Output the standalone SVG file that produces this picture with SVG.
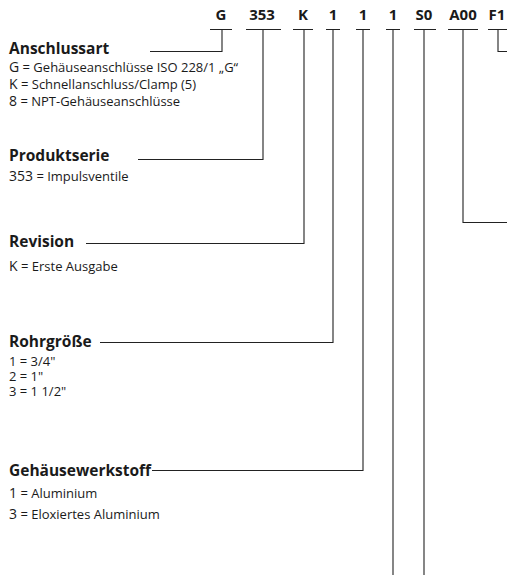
<svg xmlns="http://www.w3.org/2000/svg" width="507" height="575" viewBox="0 0 507 575">
<style>
.code{font-family:"Open Sans","Noto Sans",sans-serif;font-weight:bold;font-size:15px;fill:#1a1a1a;text-anchor:middle}
.title{font-family:"Open Sans","Noto Sans",sans-serif;font-weight:bold;font-size:15.5px;fill:#1a1a1a}
.desc{font-family:"Open Sans","Noto Sans",sans-serif;font-size:13px;fill:#1a1a1a}
.big{font-size:14px}
.sz{font-family:"Open Sans","Noto Sans",sans-serif;font-size:13px;fill:#1a1a1a}
.ln{stroke:#222;stroke-width:1.1;fill:none}
</style>
<rect width="507" height="575" fill="#fff"/>
<g id="codes">
<text class="code" x="221" y="20">G</text>
<text class="code" x="262" y="20">353</text>
<text class="code" x="303" y="20">K</text>
<text class="code" x="333" y="20">1</text>
<text class="code" x="363" y="20">1</text>
<text class="code" x="393" y="20">1</text>
<text class="code" x="424" y="20">S0</text>
<text class="code" x="463" y="20">A00</text>
<text class="code" x="497" y="20">F1</text>
</g>
<g id="connectors" class="ln">
<path d="M210 29.5H232M246 29.5H281M293 29.5H313M326 29.5H340M356 29.5H370M386 29.5H400M414 29.5H436M448 29.5H478M488 29.5H507"/>
<path d="M222 29.5V51.5H150"/>
<path d="M263 29.5V159.5H138"/>
<path d="M304 29.5V243.5H86"/>
<path d="M333 29.5V342.5H100"/>
<path d="M363 29.5V470.5H152"/>
<path d="M393 29.5V575"/>
<path d="M424 29.5V575"/>
<path d="M463 29.5V222.5H507"/>
<path d="M498 29.5V51.5H507"/>
</g>
<g id="anschlussart">
<text class="title" x="9" y="54">Anschlussart</text>
<text class="desc" x="9" y="72"><tspan class="big">G</tspan> = Gehäuseanschlüsse ISO 228/1 „G“</text>
<text class="desc" x="9" y="89"><tspan class="big">K</tspan> = Schnellanschluss/Clamp (5)</text>
<text class="desc" x="9" y="106"><tspan class="big">8</tspan> = NPT-Gehäuseanschlüsse</text>
</g>
<g id="produktserie">
<text class="title" x="9" y="161">Produktserie</text>
<text class="desc" x="9" y="181"><tspan class="big">353</tspan> = Impulsventile</text>
</g>
<g id="revision">
<text class="title" x="9" y="247">Revision</text>
<text class="desc" x="9" y="271"><tspan class="big">K</tspan> = Erste Ausgabe</text>
</g>
<g id="rohrgroesse">
<text class="title" x="9" y="347">Rohrgröße</text>
<text class="sz" x="9" y="366">1 = 3/4"</text>
<text class="sz" x="9" y="381">2 = 1"</text>
<text class="sz" x="9" y="396">3 = 1 1/2"</text>
</g>
<g id="gehaeusewerkstoff">
<text class="title" x="9" y="476">Gehäusewerkstoff</text>
<text class="desc" x="9" y="498"><tspan class="big">1</tspan> = Aluminium</text>
<text class="desc" x="9" y="519"><tspan class="big">3</tspan> = Eloxiertes Aluminium</text>
</g>
</svg>
